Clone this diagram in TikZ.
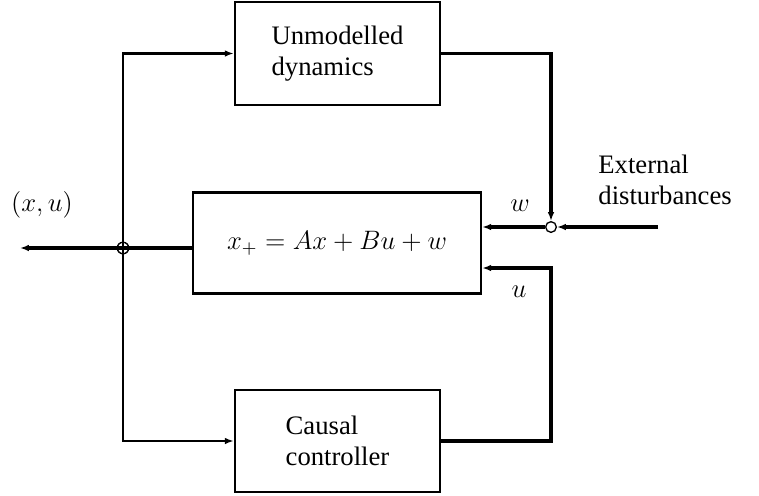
\documentclass[tikz,border=0pt]{standalone}
\usepackage{fontspec}
\setmainfont{Liberation Serif}
\usetikzlibrary{arrows.meta,calc}
\tikzset{
  blk/.style={draw, line width=1.15pt, inner sep=0pt, align=left},
  wire/.style={line width=1.4pt},
  arr/.style={wire, -{Latex[length=4pt,width=3pt]}},
  lbl/.style={inner sep=0pt},
  junc/.style={circle, draw, line width=0.5pt, minimum size=5.2pt, inner sep=0pt},
}
\begin{document}
\begin{tikzpicture}[x=0.45pt,y=-0.45pt,font=\fontsize{12}{13.8}\selectfont]
\useasboundingbox (0,0) rectangle (759,495);
% blocks
\node[blk, minimum width=92.25pt, minimum height=46.35pt] (top) at (337.5,53.5) {Unmodelled\\dynamics};
\node[blk, minimum width=129.6pt, minimum height=45.45pt] (mid) at (337,243) {$x_+ = Ax + Bu + w$};
\node[blk, minimum width=92.25pt, minimum height=45.9pt] (bot) at (337.5,441) {Causal\\controller};
% junctions
\node[junc] (J) at (123,248) {};
\node[circle, draw, fill=white, line width=0.6pt, minimum size=4.8pt, inner sep=0pt] (S) at (551,227) {};
\coordinate (out) at (20,248);
\coordinate (ext) at (658,227);
\coordinate (uc) at (551,268);
% connectors
\draw[arr] (mid.west |- J) -- (out);
\draw[arr, line width=1.2pt] (J.center) |- (top.west);
\draw[arr, line width=1.2pt] (J.center) |- (bot.west);
\draw[arr] (top.east) -| (S.north);
\draw[arr] (ext) -- (S.east);
\draw[arr] (S.west) -- (mid.east |- S);
\draw[arr] (bot.east) -| (uc) -- (mid.east |- uc);
\node[junc] at (J) {};
% labels
\node[lbl] (lxu) at (42,205) {$(x,u)$};
\node[lbl] (lw) at (520,206) {$w$};
\node[lbl] (lu) at (519,292) {$u$};
\node[lbl, align=left, anchor=north west] (lext) at (598,155) {External\\disturbances};
\end{tikzpicture}
\end{document}
